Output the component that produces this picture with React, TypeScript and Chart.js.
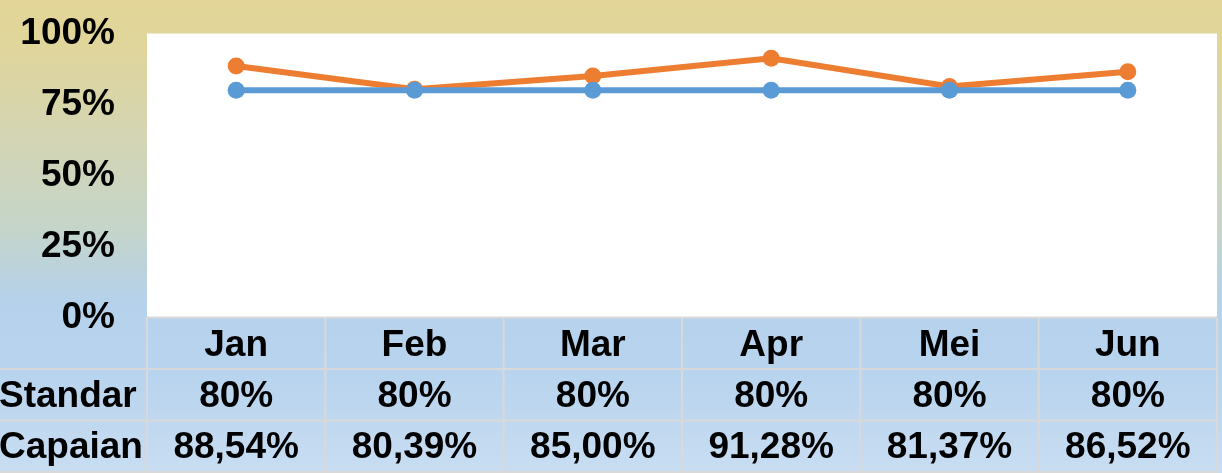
import React, { useEffect, useRef } from "react";
import { Chart, registerables } from "chart.js";

Chart.register(...registerables);

const categories = ["Jan", "Feb", "Mar", "Apr", "Mei", "Jun"];
const standarValues = [0.8, 0.8, 0.8, 0.8, 0.8, 0.8];
const capaianValues = [0.8854, 0.8039, 0.85, 0.9128, 0.8137, 0.8652];
const yTicks = [0, 0.25, 0.5, 0.75, 1];
const seriesNames = ["Standar", "Capaian"];
const seriesDecimals = [0, 2];

const FONT = "'Liberation Sans', Arial, sans-serif";
const FSIZE = 37;

function fmt(v: number, d: number) {
  return (v * 100).toFixed(d).replace(".", ",") + "%";
}

const bgPlugin = {
  id: "bgPlugin",
  beforeDraw(chart: any) {
    const { ctx, width, height, chartArea } = chart;
    ctx.save();
    const g = ctx.createLinearGradient(0, 0, 0, height);
    g.addColorStop(0, "#E2D597");
    g.addColorStop(0.1, "#E0D59B");
    g.addColorStop(0.3, "#D3D5B5");
    g.addColorStop(0.48, "#C5D5C9");
    g.addColorStop(0.64, "#B5D1EB");
    g.addColorStop(0.8, "#B9D4EE");
    g.addColorStop(1, "#C8DDF2");
    ctx.fillStyle = g;
    ctx.fillRect(0, 0, width, height);
    ctx.fillStyle = "#FFFFFF";
    ctx.fillRect(chartArea.left, chartArea.top, chartArea.right - chartArea.left, chartArea.bottom - chartArea.top);
    ctx.restore();
  },
};

const tablePlugin = {
  id: "tablePlugin",
  afterDraw(chart: any) {
    const { ctx, chartArea } = chart;
    const xs = chart.scales.x;
    const n = categories.length;
    const colW = (chartArea.right - chartArea.left) / n;
    const top = chartArea.bottom;
    const rowH = 51.5;
    const bottom = top + rowH * 3;
    ctx.save();
    ctx.strokeStyle = "#D9D9D9";
    ctx.lineWidth = 2;
    ctx.beginPath();
    ctx.moveTo(chartArea.left, top);
    ctx.lineTo(chartArea.right, top);
    for (let r = 1; r <= 3; r++) {
      const y = top + rowH * r;
      ctx.moveTo(0, y);
      ctx.lineTo(chartArea.right, y);
    }
    for (let i = 0; i <= n; i++) {
      const x = chartArea.left + colW * i;
      ctx.moveTo(x, top);
      ctx.lineTo(x, bottom);
    }
    ctx.stroke();

    ctx.fillStyle = "#000000";
    ctx.font = "bold " + FSIZE + "px " + FONT;
    ctx.textBaseline = "middle";
    const rows = [standarValues, capaianValues];
    rows.forEach((vals, r) => {
      const cy = top + rowH * (r + 1) + rowH / 2 + 2;
      ctx.textAlign = "left";
      ctx.fillText(seriesNames[r], -1, cy);
      ctx.textAlign = "center";
      vals.forEach((v, i) => {
        ctx.fillText(fmt(v, seriesDecimals[r]), xs.getPixelForValue(i), cy);
      });
    });
    ctx.restore();
  },
};

export default function App() {
  const ref = useRef<HTMLCanvasElement>(null);
  useEffect(() => {
    document.body.style.margin = "0";
    const chart = new Chart(ref.current as HTMLCanvasElement, {
      type: "line",
      data: {
        labels: categories,
        datasets: [
          {
            label: seriesNames[0],
            data: standarValues,
            borderColor: "#5B9BD5",
            backgroundColor: "#5B9BD5",
            borderWidth: 6,
            pointRadius: 8.5,
            pointBorderWidth: 0,
            pointBackgroundColor: "#5B9BD5",
            tension: 0,
          },
          {
            label: seriesNames[1],
            data: capaianValues,
            borderColor: "#ED7D31",
            backgroundColor: "#ED7D31",
            borderWidth: 6,
            pointRadius: 8.5,
            pointBorderWidth: 0,
            pointBackgroundColor: "#ED7D31",
            tension: 0,
          },
        ],
      },
      options: {
        responsive: false,
        animation: false,
        events: [],
        layout: { autoPadding: false, padding: { top: 33.5, right: 5, left: 0, bottom: 0 } },
        plugins: { legend: { display: false }, tooltip: { enabled: false } },
        scales: {
          x: {
            offset: true,
            grid: { display: false },
            border: { display: false },
            ticks: {
              color: "#000000",
              font: { family: FONT, size: FSIZE, weight: "bold" },
              padding: -2,
              maxRotation: 0,
            },
            afterFit(scale: any) {
              scale.height = 155.5;
              scale.paddingLeft = 0;
              scale.paddingRight = 0;
            },
          },
          y: {
            min: 0,
            max: 1,
            afterBuildTicks(scale: any) {
              scale.ticks = yTicks.map((v) => ({ value: v }));
            },
            grid: { display: false },
            border: { display: false },
            ticks: {
              color: "#000000",
              font: { family: FONT, size: FSIZE, weight: "bold" },
              padding: 24,
              callback: (v: any) => Math.round(Number(v) * 100) + "%",
            },
            afterFit(scale: any) {
              scale.width = 147;
              scale.paddingTop = 0;
              scale.paddingBottom = 0;
            },
          },
        },
      },
      plugins: [bgPlugin, tablePlugin],
    });
    return () => chart.destroy();
  }, []);
  return (
    <div style={{ position: "absolute", left: 0, top: 0, width: 1222, height: 473 }}>
      <canvas ref={ref} width={1222} height={473} style={{ display: "block" }} />
    </div>
  );
}
